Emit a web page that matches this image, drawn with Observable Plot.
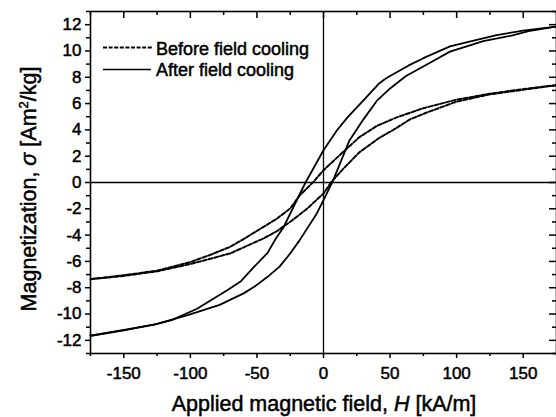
<!DOCTYPE html>
<html>
<head>
<meta charset="utf-8">
<script src="https://cdn.jsdelivr.net/npm/d3@7"></script>
<script src="https://cdn.jsdelivr.net/npm/@observablehq/plot@0.6"></script>
<style>
  html, body { margin: 0; padding: 0; background: #fff; }
  #chart svg text { stroke: #000; stroke-width: 0.5px; paint-order: stroke; }
</style>
</head>
<body>
<div id="chart"></div>
<script>
// Before field cooling: descending branch (from +H to -H)
const H_before_desc = [175,150,125,100,75,55,40,27,15,0,-8,-18,-25,-35,-45,-60,-70,-85,-100,-125,-150,-175];
const M_before_desc = [7.4,7.1,6.75,6.3,5.65,4.95,4.3,3.45,2.35,0.93,0.0,-1.0,-1.97,-2.75,-3.37,-4.3,-4.89,-5.5,-6.05,-6.7,-7.05,-7.35];
// Before field cooling: ascending branch (from -H to +H)
const H_before_asc = [-175,-150,-125,-100,-85,-70,-55,-45,-35,-25,-13,0,6,15,27,42,52,65,77,100,125,150,175];
const M_before_asc = [-7.35,-7.1,-6.75,-6.2,-5.8,-5.39,-4.7,-4.25,-3.7,-2.99,-2.05,-0.84,0.05,1.06,2.3,3.4,3.97,4.8,5.3,6.15,6.7,7.05,7.4];
// After field cooling: descending branch
const H_after_desc = [175,150,130,105,95,75,64,57,50,46,42,30,18,10,0,-13.5,-22,-30,-36,-42,-52,-62,-72,-95,-114,-125,-150,-175];
const M_after_desc = [11.85,11.55,11.2,10.6,10.35,9.45,8.9,8.5,8.1,7.85,7.55,6.25,4.95,3.95,2.45,0,-1.75,-3.4,-4.3,-5.35,-6.4,-7.5,-8.18,-9.6,-10.46,-10.75,-11.25,-11.65];
// After field cooling: ascending branch
const H_after_asc = [-175,-127,-102,-78,-60,-52,-42,-33,-25,-18,-5,0,7,19.5,30,40,50,62,80,95,120,142,154,175];
const M_after_asc = [-11.65,-10.8,-10.08,-9.3,-8.43,-7.93,-7.17,-6.4,-5.4,-4.4,-2.35,-1.34,0.1,3.2,4.8,6.2,7.15,8.1,9.1,9.95,10.75,11.18,11.5,11.85];

const xMajor = [-150,-100,-50,0,50,100,150];
const xMinor = [-175,-125,-75,-25,25,75,125,175];
const yMajor = [-12,-10,-8,-6,-4,-2,0,2,4,6,8,10,12];
const yMinor = [-13,-11,-9,-7,-5,-3,-1,1,3,5,7,9,11,13];

const seriesNames = ["Before field cooling", "After field cooling"];

function branch(Hs, Ms, name, br) {
  return Hs.map((h, i) => ({H: h, M: Ms[i], series: name, branch: br}));
}
const before = [...branch(H_before_desc, M_before_desc, seriesNames[0], "desc"),
                ...branch(H_before_asc, M_before_asc, seriesNames[0], "asc")];
const after = [...branch(H_after_desc, M_after_desc, seriesNames[1], "desc"),
               ...branch(H_after_asc, M_after_asc, seriesNames[1], "asc")];

const W = 556, Hh = 417;
const mL = 90, mR = 0, mT = 11, mB = 64;
const innerW = W - mL - mR, innerH = Hh - mT - mB;
const font = "'Liberation Sans', Arial, Helvetica, sans-serif";

const svg = Plot.plot({
  width: W,
  height: Hh,
  marginLeft: mL,
  marginRight: mR,
  marginTop: mT,
  marginBottom: mB,
  style: {fontFamily: font, fontSize: "17px", color: "#000", background: "#fff", overflow: "visible"},
  x: {domain: [-175, 175]},
  y: {domain: [-13, 13]},
  marks: [
    Plot.ruleX([0], {stroke: "#000", strokeWidth: 1.3}),
    Plot.ruleY([0], {stroke: "#000", strokeWidth: 1.3}),
    Plot.line(before, {x: "H", y: "M", z: "branch", stroke: "#000", strokeWidth: 2, strokeDasharray: "4,2", curve: "linear"}),
    Plot.line(after, {x: "H", y: "M", z: "branch", stroke: "#000", strokeWidth: 1.8, curve: "linear"}),
    // bottom axis (outward ticks)
    Plot.axisX({ticks: xMajor, tickSize: 5, tickPadding: 8, tickFormat: d => String(d), label: null, strokeWidth: 1.5, fontSize: 17}),
    Plot.axisX({ticks: xMinor, tickSize: 3, tickFormat: () => "", label: null, strokeWidth: 1.5}),
    // left axis (outward ticks)
    Plot.axisY({ticks: yMajor, tickSize: 5, tickPadding: 4, tickFormat: d => String(d), label: null, strokeWidth: 1.5, fontSize: 17}),
    Plot.axisY({ticks: yMinor, tickSize: 4, tickFormat: () => "", label: null, strokeWidth: 1.5}),
    // top inward ticks
    Plot.tickX(xMajor, {x: d => d, insetBottom: innerH - 7, stroke: "#000", strokeWidth: 1.5}),
    Plot.tickX(xMinor, {x: d => d, insetBottom: innerH - 4, stroke: "#000", strokeWidth: 1.5}),
    // right inward ticks
    Plot.tickY(yMajor, {y: d => d, insetLeft: innerW - 7, stroke: "#000", strokeWidth: 1.5}),
    Plot.tickY(yMinor, {y: d => d, insetLeft: innerW - 4, stroke: "#000", strokeWidth: 1.5}),
    Plot.frame({stroke: "#000", strokeWidth: 1.6})
  ]
});

const s = d3.select(svg);

// X axis title
const xt = s.append("text")
  .attr("x", mL + innerW / 2 + 1)
  .attr("y", 411)
  .attr("text-anchor", "middle")
  .attr("font-family", font)
  .attr("font-size", 21.5)
  .attr("fill", "#000");
xt.append("tspan").text("Applied magnetic field, ");
xt.append("tspan").attr("font-style", "italic").text("H");
xt.append("tspan").text(" [kA/m]");

// Y axis title
const yt = s.append("text")
  .attr("transform", "translate(36,189) rotate(-90)")
  .attr("text-anchor", "middle")
  .attr("font-family", font)
  .attr("font-size", 21.5)
  .attr("fill", "#000");
yt.append("tspan").text("Magnetization, ");
yt.append("tspan").attr("font-style", "italic").text("σ");
yt.append("tspan").text(" [Am");
yt.append("tspan").attr("font-size", 13).attr("dy", -8).text("2");
yt.append("tspan").attr("dy", 8).text("/kg]");

// Legend
const leg = s.append("g").attr("font-family", font).attr("font-size", 18).attr("fill", "#000").attr("text-anchor", "start");
leg.append("line").attr("x1", 103).attr("x2", 152).attr("y1", 47.5).attr("y2", 47.5)
  .attr("stroke", "#000").attr("stroke-width", 1.8).attr("stroke-dasharray", "4,1.6");
leg.append("text").attr("x", 156).attr("y", 54.5).attr("text-anchor", "start").text(seriesNames[0]);
leg.append("line").attr("x1", 103).attr("x2", 151).attr("y1", 69.5).attr("y2", 69.5)
  .attr("stroke", "#000").attr("stroke-width", 1.6);
leg.append("text").attr("x", 156).attr("y", 76).attr("text-anchor", "start").text(seriesNames[1]);

document.getElementById("chart").appendChild(svg);
</script>
</body>
</html>
